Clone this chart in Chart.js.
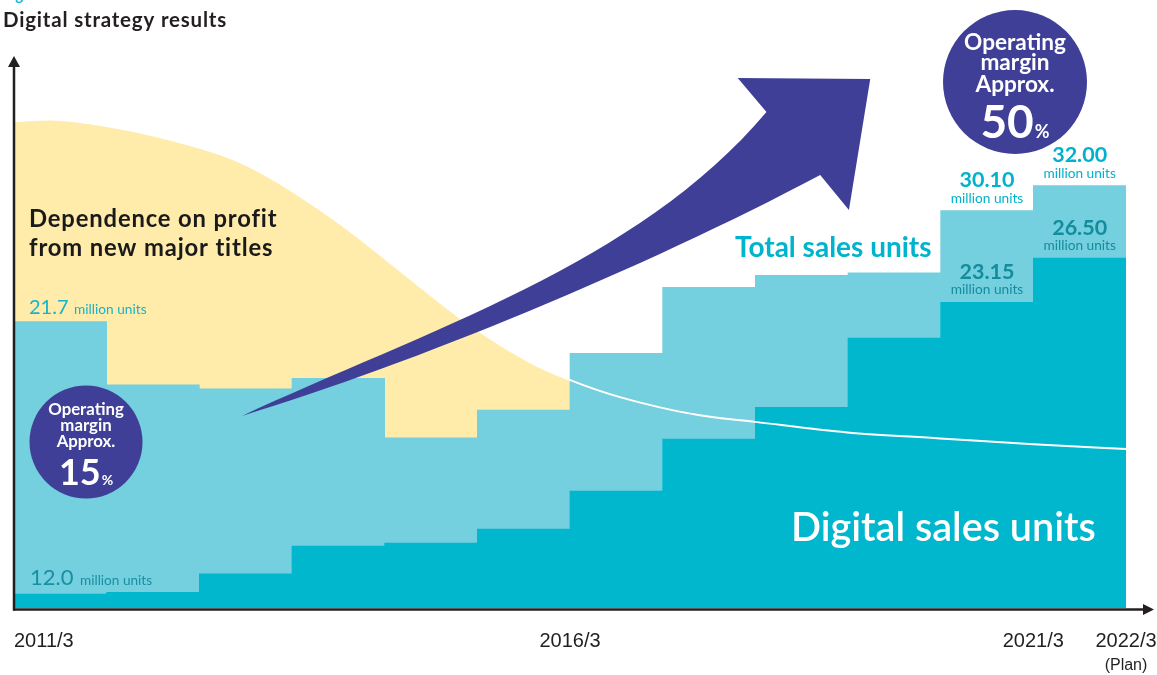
<!DOCTYPE html>
<html>
<head>
<meta charset="utf-8">
<script src="https://cdn.jsdelivr.net/npm/chart.js@4.4.1/dist/chart.umd.min.js"></script>
<style>
  html, body { margin: 0; padding: 0; background: #fff; }
  #wrap { position: relative; width: 1157px; height: 675px; overflow: hidden; }
  canvas { position: absolute; left: 0; top: 0; }
</style>
</head>
<body>
<div id="wrap">
  <canvas id="chart" width="1157" height="675"></canvas>
</div>
<script>
// fiscal years (one bar each)
const years = ['2011/3', '2012/3', '2013/3', '2014/3', '2015/3', '2016/3',
               '2017/3', '2018/3', '2019/3', '2020/3', '2021/3', '2022/3'];

// million units, as drawn (the source art is not to scale for the early digital bars)
const totalUnits   = [21.7, 16.9, 16.6, 17.4, 12.9, 15.0, 19.3, 24.3, 25.2, 25.4, 30.1, 32.0];
const digitalUnits = [1.06, 1.19, 2.58, 4.70, 4.92, 5.98, 8.86, 12.8, 15.2, 20.45, 23.15, 26.5];

// "dependence on profit from new major titles" curve (x in bar index units)
const curveX = [-0.5, -0.11, 0.59, 1.20, 1.83, 2.24, 2.65, 3.06, 3.48, 3.89, 4.30,
                4.71, 5.13, 5.49, 5.93, 6.47, 6.90, 7.50, 8.49, 9.49, 10.50, 11.5];
const curveY = [36.9, 37.0, 36.4, 35.45, 34.1, 32.7, 30.9, 28.9, 26.6, 24.3, 22.05,
                20.1, 18.4, 17.3, 16.2, 15.2, 14.6, 14.1, 13.3, 12.85, 12.4, 12.05];

// axis labels sit on bar boundaries
const tickLabels = ['2011/3', '2016/3', '2021/3', '2022/3'];
const tickPos    = [-0.5, 5.5, 10.5, 11.5];

// value callouts: [bar index, series, text, colour]
const callouts = [
  [10, 'total',   '30.10', '#00b2cb'],
  [11, 'total',   '32.00', '#00b2cb'],
  [10, 'digital', '23.15', '#138d9d'],
  [11, 'digital', '26.50', '#138d9d']
];

const FONT = 'Lato, "Noto Sans", sans-serif';
const TICKFONT = '20px "Liberation Sans", Arial, sans-serif';
const PURPLE = '#3f3f98';

function txt(ctx, s, x, y, font, color, align, ls) {
  ctx.font = font;
  ctx.fillStyle = color;
  ctx.textAlign = align || 'left';
  ctx.textBaseline = 'alphabetic';
  if ('letterSpacing' in ctx) ctx.letterSpacing = (ls || 0) + 'px';
  ctx.fillText(s, x, y);
  if ('letterSpacing' in ctx) ctx.letterSpacing = '0px';
}

function badge(ctx, cx, cy, r, lineFont, lines, lineYs, bigFont, pctFont, big, bigY) {
  ctx.beginPath();
  ctx.arc(cx, cy, r, 0, Math.PI * 2);
  ctx.fillStyle = PURPLE;
  ctx.fill();
  lines.forEach((l, i) => txt(ctx, l, cx, lineYs[i], lineFont, '#fff', 'center'));
  ctx.font = bigFont;
  const w1 = ctx.measureText(big).width;
  ctx.font = pctFont;
  const w2 = ctx.measureText('%').width;
  const x0 = cx - (w1 + w2 + 1) / 2;
  txt(ctx, big, x0, bigY, bigFont, '#fff');
  txt(ctx, '%', x0 + w1 + 1, bigY, pctFont, '#fff');
}

const decorations = {
  id: 'decorations',
  afterDatasetsDraw(chart) {
    const ctx = chart.ctx;
    const xs = chart.scales.x, xc = chart.scales.xc, ys = chart.scales.y;
    const P = (i, v) => [xc.getPixelForValue(i), ys.getPixelForValue(v)];
    ctx.save();

    // growth arrow (shape given in bar-index / value units)
    const tail = P(1.96, 14.55), u1 = P(3.91, 20.95), u2 = P(6.23, 25.98), uj = P(7.62, 37.58);
    const hl = P(7.31, 40.15), tip = P(8.74, 40.08), hb = P(8.51, 30.15), lj = P(8.20, 32.8);
    const l1 = P(6.29, 25.69), l2 = P(3.82, 18.53);
    ctx.beginPath();
    ctx.moveTo(...tail);
    ctx.bezierCurveTo(...u1, ...u2, ...uj);
    ctx.lineTo(...hl);
    ctx.lineTo(...tip);
    ctx.lineTo(...hb);
    ctx.lineTo(...lj);
    ctx.bezierCurveTo(...l1, ...l2, ...tail);
    ctx.closePath();
    ctx.fillStyle = PURPLE;
    ctx.fill();

    // operating margin badges
    badge(ctx, 86, 442, 56.5, 'bold 16.8px ' + FONT, ['Operating', 'margin', 'Approx.'],
          [415, 431, 447], 'bold 36px ' + FONT, 'bold 14px ' + FONT, '15', 485);
    badge(ctx, 1015, 82, 72, 'bold 22.6px ' + FONT, ['Operating', 'margin', 'Approx.'],
          [50, 70, 92], 'bold 46px ' + FONT, 'bold 18px ' + FONT, '50', 138);

    // figure header (cut off at the top edge)
    txt(ctx, 'Figure 3', 3, 0, 'bold 15px ' + FONT, '#1fb3d6');
    txt(ctx, 'Digital strategy results', 3, 27, 'bold 20.5px ' + FONT, '#231f20', 'left', 0.8);

    // series captions
    txt(ctx, 'Dependence on profit', 29, 227, 'bold 23.8px ' + FONT, '#1a1a1a', 'left', 0.85);
    txt(ctx, 'from new major titles', 29, 256, 'bold 23.8px ' + FONT, '#1a1a1a', 'left', 0.85);
    txt(ctx, 'Total sales units', 735, 257, 'bold 28px ' + FONT, '#00b4cd');
    txt(ctx, 'Digital sales units', 791, 541, '600 39.6px ' + FONT, '#ffffff');

    // first-year values
    txt(ctx, '21.7', 29, 314, '20px ' + FONT, '#17b3cc');
    txt(ctx, 'million units', 74, 314, '13.7px ' + FONT, '#17b3cc');
    txt(ctx, '12.0', 30, 585, '22px ' + FONT, '#1790a3');
    txt(ctx, 'million units', 80, 585, '13.6px ' + FONT, '#1790a3');

    // latest-year callouts above the bars
    callouts.forEach(([i, s, label, col]) => {
      const v = s === 'total' ? totalUnits[i] : digitalUnits[i];
      const x = xs.getPixelForValue(i);
      const top = ys.getPixelForValue(v);
      txt(ctx, label, x, top - 23.5, 'bold 21.5px ' + FONT, col, 'center');
      txt(ctx, 'million units', x, top - 8, '13.7px ' + FONT, col, 'center');
    });
    ctx.restore();
  },
  afterDraw(chart) {
    const ctx = chart.ctx, a = chart.chartArea;
    const xc = chart.scales.xc;
    ctx.save();
    ctx.strokeStyle = '#231f20';
    ctx.fillStyle = '#231f20';
    ctx.lineWidth = 2.5;
    // y axis with arrow
    ctx.beginPath();
    ctx.moveTo(a.left, a.bottom + 2.5);
    ctx.lineTo(a.left, 64);
    ctx.stroke();
    ctx.beginPath();
    ctx.moveTo(a.left, 56);
    ctx.lineTo(a.left - 6, 67);
    ctx.lineTo(a.left + 6, 67);
    ctx.closePath();
    ctx.fill();
    // x axis with arrow
    const ay = a.bottom + 1.5;
    ctx.beginPath();
    ctx.moveTo(a.left - 1, ay);
    ctx.lineTo(1146, ay);
    ctx.stroke();
    ctx.beginPath();
    ctx.moveTo(1154, ay);
    ctx.lineTo(1143, ay - 5.5);
    ctx.lineTo(1143, ay + 5.5);
    ctx.closePath();
    ctx.fill();
    // tick labels
    tickLabels.forEach((t, k) => {
      const x = xc.getPixelForValue(tickPos[k]);
      txt(ctx, t, x, 647, TICKFONT, '#231f20', k === 0 ? 'left' : 'center');
    });
    txt(ctx, '(Plan)', xc.getPixelForValue(tickPos[3]), 670, '16px "Liberation Sans", Arial, sans-serif', '#231f20', 'center');
    ctx.restore();
  }
};

new Chart(document.getElementById('chart'), {
  data: {
    labels: years,
    datasets: [
      {
        type: 'line',
        label: 'Dependence on profit from new major titles',
        data: curveX.map((x, i) => ({ x: x, y: curveY[i] })),
        xAxisID: 'xc',
        fill: 'origin',
        backgroundColor: '#ffebaa',
        borderColor: '#ffffff',
        borderWidth: 2,
        pointRadius: 0,
        cubicInterpolationMode: 'monotone',
        order: 1
      },
      {
        type: 'bar',
        label: 'Total sales units',
        data: totalUnits,
        backgroundColor: '#74cfde',
        grouped: false,
        barPercentage: 1,
        categoryPercentage: 1,
        order: 3
      },
      {
        type: 'bar',
        label: 'Digital sales units',
        data: digitalUnits,
        backgroundColor: '#00b7ce',
        grouped: false,
        barPercentage: 1,
        categoryPercentage: 1,
        order: 2
      }
    ]
  },
  options: {
    responsive: false,
    animation: false,
    devicePixelRatio: 1,
    layout: { padding: { left: 14, right: 31, top: 80, bottom: 67 } },
    scales: {
      x: { display: false, offset: true },
      xc: { type: 'linear', display: false, min: -0.5, max: 11.5 },
      y: { display: false, min: 0, max: 40 }
    },
    plugins: {
      legend: { display: false },
      tooltip: { enabled: false },
      filler: { drawTime: 'beforeDatasetsDraw' }
    }
  },
  plugins: [decorations]
});
</script>
</body>
</html>
